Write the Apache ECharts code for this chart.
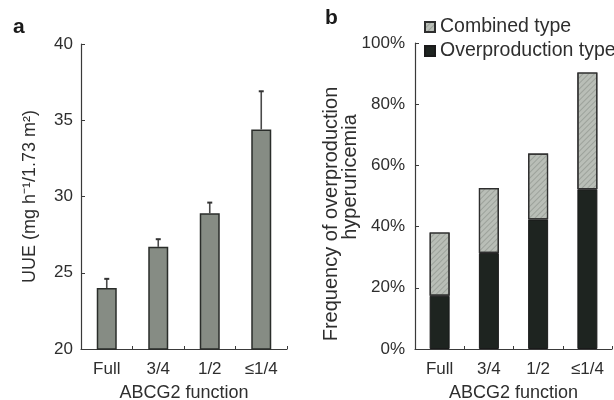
<!DOCTYPE html>
<html>
<head>
<meta charset="utf-8">
<script src="https://cdn.jsdelivr.net/npm/echarts@6/dist/echarts.min.js"></script>
<style>
html,body{margin:0;padding:0;background:#fff;}
#chart{width:614px;height:400px;}
</style>
</head>
<body>
<div id="chart"></div>
<script>
// ---- data ----
const categories = ['Full', '3/4', '1/2', '≤1/4'];
const uueMean = [24.0, 26.7, 28.9, 34.4];
const uueUpper = [24.6, 27.2, 29.6, 36.9];
const overproduction = [17.4, 31.4, 42.3, 52.2];
const combined = [20.7, 21.2, 21.6, 38.2];
const uueTicks = [20, 25, 30, 35, 40];
const pctTicks = [0, 20, 40, 60, 80, 100];

const FONT = 'Liberation Sans, Arial, Helvetica, sans-serif';
const TXT = '#2e2e2e';
const AX = '#3a3a3a';

const chart = echarts.init(document.getElementById('chart'), null, {renderer: 'canvas'});

function axisCommon() {
  return {
    axisLine: {show: true, lineStyle: {color: AX, width: 1.2}},
    axisTick: {show: true, inside: true, length: 4, lineStyle: {color: AX, width: 1}},
    splitLine: {show: false}
  };
}

function catAxis(gi) {
  return Object.assign(axisCommon(), {
    gridIndex: gi, type: 'category', data: categories,
    axisTick: {show: true, inside: true, length: 3, lineStyle: {color: AX}},
    axisLabel: {fontSize: 17, color: TXT, margin: 12},
    name: 'ABCG2 function', nameLocation: 'middle', nameGap: 35,
    nameTextStyle: {fontSize: 18, color: TXT}
  });
}

const option = {
  backgroundColor: '#ffffff',
  animation: false,
  textStyle: {fontFamily: FONT},
  grid: [
    {left: 81, width: 206, top: 44, height: 305, containLabel: false, outerBoundsMode: 'none'},
    {left: 415, width: 197, top: 43, height: 306, containLabel: false, outerBoundsMode: 'none'}
  ],
  legend: {
    data: ['Combined type', 'Overproduction type'],
    orient: 'vertical',
    left: 424,
    top: 17,
    padding: 0,
    itemWidth: 10,
    itemHeight: 10,
    itemGap: 4,
    icon: 'rect',
    textStyle: {fontSize: 19.5, color: TXT, fontFamily: FONT}
  },
  xAxis: [catAxis(0), catAxis(1)],
  yAxis: [
    Object.assign(axisCommon(), {
      gridIndex: 0, type: 'value',
      min: uueTicks[0], max: uueTicks[uueTicks.length - 1], interval: uueTicks[1] - uueTicks[0],
      axisLabel: {fontSize: 17, color: TXT, margin: 8},
      name: 'UUE (mg h⁻¹/1.73 m²)', nameLocation: 'middle', nameGap: 42,
      nameTextStyle: {fontSize: 18, color: TXT}
    }),
    Object.assign(axisCommon(), {
      gridIndex: 1, type: 'value',
      min: pctTicks[0], max: pctTicks[pctTicks.length - 1], interval: pctTicks[1] - pctTicks[0],
      axisLabel: {fontSize: 17, color: TXT, margin: 10, formatter: '{value}%'}
    })
  ],
  series: [
    {
      name: 'UUE', type: 'bar', xAxisIndex: 0, yAxisIndex: 0,
      data: uueMean, barWidth: 20,
      itemStyle: {color: '#868c84', borderColor: '#2a2d2a', borderWidth: 1.5}
    },
    {
      name: 'UUE error', type: 'custom', xAxisIndex: 0, yAxisIndex: 0,
      data: uueMean.map((m, i) => [i, m, uueUpper[i]]),
      z: 1,
      renderItem: function (params, api) {
        const base = api.coord([api.value(0), api.value(1)]);
        const top = api.coord([api.value(0), api.value(2)]);
        return {
          type: 'group',
          children: [
            {type: 'line', shape: {x1: base[0], y1: base[1], x2: top[0], y2: top[1]}, style: {stroke: '#4a4a4a', lineWidth: 1.6}},
            {type: 'line', shape: {x1: top[0] - 2.5, y1: top[1], x2: top[0] + 2.5, y2: top[1]}, style: {stroke: '#333', lineWidth: 2}}
          ]
        };
      }
    },
    {
      name: 'Overproduction type', type: 'bar', xAxisIndex: 1, yAxisIndex: 1,
      stack: 'freq', data: overproduction, barWidth: 20,
      itemStyle: {color: '#1e2420', borderColor: '#1a1a1a', borderWidth: 1}
    },
    {
      name: 'Combined type', type: 'bar', xAxisIndex: 1, yAxisIndex: 1,
      stack: 'freq', data: combined, barWidth: 20,
      itemStyle: {
        color: '#b9beb7', borderColor: '#2e2e2e', borderWidth: 1.2,
        decal: {symbol: 'rect', symbolSize: 1, dashArrayX: [1, 0], dashArrayY: [1, 3], rotation: -Math.PI / 4, color: 'rgba(90,95,90,0.3)'}
      }
    }
  ],
  graphic: [
    {type: 'text', left: 13, top: 17, style: {text: 'a', font: 'bold 21px ' + FONT, fill: '#1a1a1a'}},
    {type: 'text', left: 325, top: 8, style: {text: 'b', font: 'bold 21px ' + FONT, fill: '#1a1a1a'}},
    {type: 'text', x: 331, y: 214, rotation: Math.PI / 2,
      style: {text: 'Frequency of overproduction', font: '20px ' + FONT, fill: TXT, textAlign: 'center', textVerticalAlign: 'middle'}},
    {type: 'text', x: 350, y: 177, rotation: Math.PI / 2,
      style: {text: 'hyperuricemia', font: '20px ' + FONT, fill: TXT, textAlign: 'center', textVerticalAlign: 'middle'}}
  ]
};

chart.setOption(option);
</script>
</body>
</html>
